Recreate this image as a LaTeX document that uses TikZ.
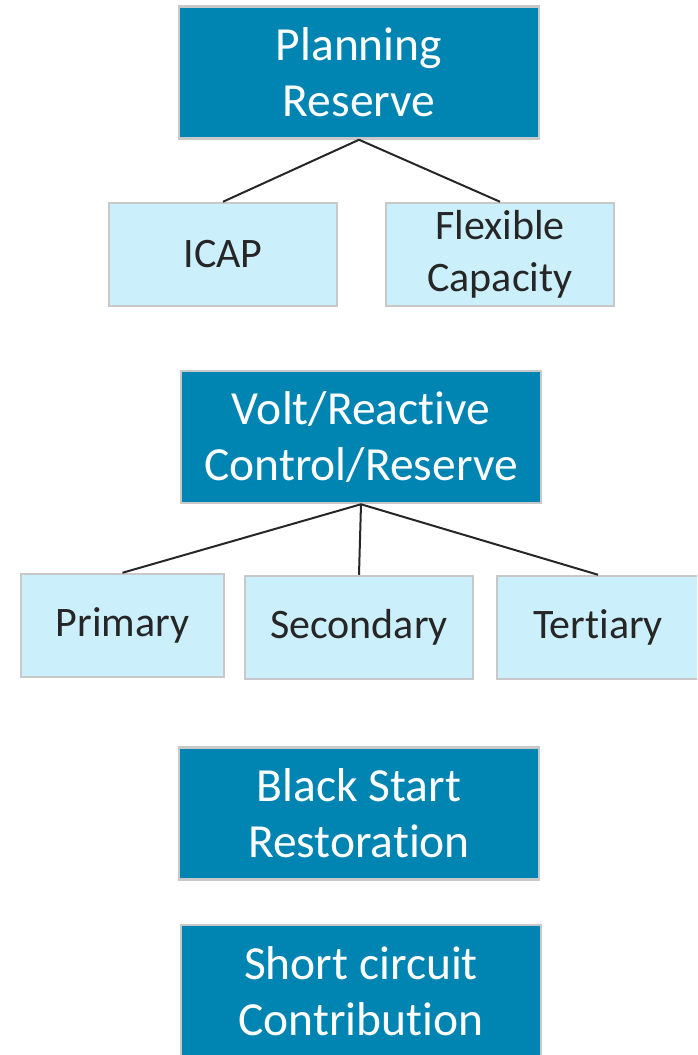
\documentclass[tikz,border=0pt]{standalone}
\usepackage{fontspec}
\setmainfont{Carlito}[Ligatures=NoCommon]
\definecolor{darkbox}{RGB}{0,133,178}
\definecolor{lightbox}{RGB}{204,239,252}
\definecolor{boxedge}{RGB}{200,200,200}
\definecolor{txtdark}{RGB}{38,38,38}
\begin{document}
\begin{tikzpicture}[x=1pt,y=-1pt,
  darknode/.style={draw=boxedge,line width=2.5pt,fill=darkbox,text=white,
    minimum width=360pt,minimum height=132pt,inner sep=0pt,align=center,
    font=\fontsize{47.5}{56}\selectfont},
  lightnode/.style={draw=boxedge,line width=2.5pt,fill=lightbox,text=txtdark,
    minimum height=103pt,inner sep=0pt,align=center,
    font=\fontsize{42}{52}\selectfont},
  link/.style={draw=txtdark,line width=2pt}]
\useasboundingbox (0,0) rectangle (697,1055);
\begin{scope}
\clip (0,0) rectangle (697,1055);
\node[darknode] (plan) at (359,72.5) {Planning\\Reserve};
\node[lightnode,minimum width=228pt] (icap) at (223,254.5) {ICAP};
\node[lightnode,minimum width=228pt] (flex) at (500,254.5) {Flexible\\Capacity};
\node[darknode] (volt) at (361,437) {Volt/Reactive\\Control/Reserve};
\node[lightnode,minimum width=203pt] (prim) at (122.5,625.5) {Primary};
\node[lightnode,minimum width=228pt] (sec) at (359,627.5) {Secondary};
\node[lightnode,minimum width=202pt] (tert) at (598,627.5) {Tert\kern0pt iary};
\node[darknode] (black) at (359,813.5) {Black Start\\Restorat\kern0pt ion};
\node[darknode] (short) at (361,991) {Short circuit\\Contribut\kern0pt ion};
\end{scope}
\draw[link] (plan.south) -- (icap.north);
\draw[link] (plan.south) -- (flex.north);
\draw[link] (volt.south) -- (prim.north);
\draw[link] (volt.south) -- (sec.north);
\draw[link] (volt.south) -- (tert.north);
\end{tikzpicture}
\end{document}
